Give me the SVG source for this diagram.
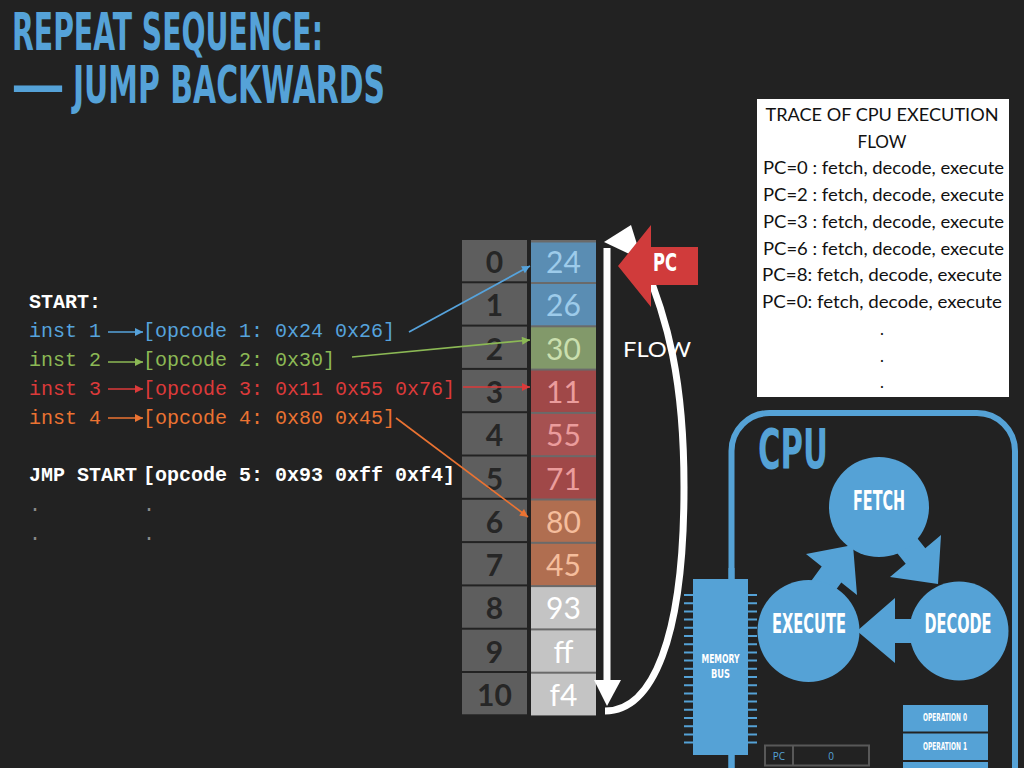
<svg xmlns="http://www.w3.org/2000/svg" width="1024" height="768" viewBox="0 0 1024 768">
<defs>
<style>
.cond{font-family:'Liberation Sans Narrow','DejaVu Sans Condensed','Liberation Sans',sans-serif;font-weight:bold}
.title{fill:#55a2d8;font-size:52px}
.mono{font-family:'Liberation Mono','DejaVu Sans Mono',monospace;font-size:20px}
.idx{font-family:Lato,'Noto Sans',sans-serif;font-size:30px;font-weight:bold;fill:#262626;text-anchor:middle}
.val{font-family:Lato,'Noto Sans',sans-serif;font-size:30px;text-anchor:middle}
.icell{fill:#5e5e5e}
.trace{font-family:Lato,'Noto Sans',sans-serif;font-size:16.5px;fill:#111;text-anchor:middle}
.blue{fill:#55a2d6}
.wtxt{fill:#fff;text-anchor:middle}
.pin{stroke:#55a2d6;stroke-width:2}
</style>
<marker id="mb" viewBox="0 0 10 10" refX="10" refY="5" markerWidth="10" markerHeight="8" markerUnits="userSpaceOnUse" orient="auto"><path d="M0,0L10,5L0,10z" fill="#56a3dc"/></marker>
<marker id="mg" viewBox="0 0 10 10" refX="10" refY="5" markerWidth="10" markerHeight="8" markerUnits="userSpaceOnUse" orient="auto"><path d="M0,0L10,5L0,10z" fill="#8cb955"/></marker>
<marker id="mr" viewBox="0 0 10 10" refX="10" refY="5" markerWidth="10" markerHeight="8" markerUnits="userSpaceOnUse" orient="auto"><path d="M0,0L10,5L0,10z" fill="#dc3a3a"/></marker>
<marker id="mo" viewBox="0 0 10 10" refX="10" refY="5" markerWidth="10" markerHeight="8" markerUnits="userSpaceOnUse" orient="auto"><path d="M0,0L10,5L0,10z" fill="#eb7332"/></marker>
</defs>
<rect width="1024" height="768" fill="#222222"/>

<g id="title" class="cond title">
<text x="12" y="50" textLength="311" lengthAdjust="spacingAndGlyphs">REPEAT SEQUENCE:</text>
<text y="103"><tspan x="11" textLength="54" lengthAdjust="spacingAndGlyphs">—</tspan> <tspan x="73" textLength="312" lengthAdjust="spacingAndGlyphs">JUMP BACKWARDS</tspan></text>
</g>

<g id="code" class="mono">
<text x="29" y="308" fill="#ffffff" font-weight="bold">START:</text>
<g id="inst1" fill="#56a3dc"><text x="29" y="337">inst 1</text><text x="143" y="337">[opcode 1: 0x24 0x26]</text></g>
<g id="inst2" fill="#8cb955"><text x="29" y="366">inst 2</text><text x="143" y="366">[opcode 2: 0x30]</text></g>
<g id="inst3" fill="#dc3a3a"><text x="29" y="395">inst 3</text><text x="143" y="395">[opcode 3: 0x11 0x55 0x76]</text></g>
<g id="inst4" fill="#eb7332"><text x="29" y="424">inst 4</text><text x="143" y="424">[opcode 4: 0x80 0x45]</text></g>
<g id="jmp" fill="#ffffff" font-weight="bold"><text x="29" y="481">JMP START</text><text x="143" y="481">[opcode 5: 0x93 0xff 0xf4]</text></g>
<g fill="#8a8a8a"><text x="29" y="511">.</text><text x="143" y="511">.</text><text x="29" y="540">.</text><text x="143" y="540">.</text></g>
</g>

<g id="memory-index">
<rect class="icell" x="462" y="240" width="65" height="41.3"/>
<rect class="icell" x="462" y="283.3" width="65" height="41.3"/>
<rect class="icell" x="462" y="326.6" width="65" height="41.3"/>
<rect class="icell" x="462" y="369.9" width="65" height="41.3"/>
<rect class="icell" x="462" y="413.2" width="65" height="41.3"/>
<rect class="icell" x="462" y="456.5" width="65" height="41.3"/>
<rect class="icell" x="462" y="499.8" width="65" height="41.3"/>
<rect class="icell" x="462" y="543.1" width="65" height="41.3"/>
<rect class="icell" x="462" y="586.4" width="65" height="41.3"/>
<rect class="icell" x="462" y="629.7" width="65" height="41.3"/>
<rect class="icell" x="462" y="673" width="65" height="41.3"/>
<text class="idx" x="494.5" y="273">0</text>
<text class="idx" x="494.5" y="316.3">1</text>
<text class="idx" x="494.5" y="359.6">2</text>
<text class="idx" x="494.5" y="402.9">3</text>
<text class="idx" x="494.5" y="446.2">4</text>
<text class="idx" x="494.5" y="489.5">5</text>
<text class="idx" x="494.5" y="532.8">6</text>
<text class="idx" x="494.5" y="576.1">7</text>
<text class="idx" x="494.5" y="619.4">8</text>
<text class="idx" x="494.5" y="662.7">9</text>
<text class="idx" x="494.5" y="706">10</text>
</g>

<g id="memory-values">
<rect x="531" y="240" width="65" height="476" fill="#6a6a6a"/>
<rect x="531" y="242.5" width="65" height="39.5" fill="#5a8db3"/>
<rect x="531" y="284" width="65" height="41.3" fill="#5a8db3"/>
<rect x="531" y="327.3" width="65" height="41.3" fill="#82996a"/>
<rect x="531" y="370.6" width="65" height="41.3" fill="#a04848"/>
<rect x="531" y="413.9" width="65" height="41.3" fill="#a65151"/>
<rect x="531" y="457.2" width="65" height="41.3" fill="#a04848"/>
<rect x="531" y="500.5" width="65" height="41.3" fill="#b06e50"/>
<rect x="531" y="543.8" width="65" height="41.3" fill="#b06e50"/>
<rect x="531" y="587.1" width="65" height="41.3" fill="#c4c4c4"/>
<rect x="531" y="630.4" width="65" height="41.3" fill="#c4c4c4"/>
<rect x="531" y="673.7" width="65" height="41.3" fill="#c4c4c4"/>
<text class="val" x="563.5" y="273" fill="#9dcbea">24</text>
<text class="val" x="563.5" y="316.3" fill="#9dcbea">26</text>
<text class="val" x="563.5" y="359.6" fill="#cadfae">30</text>
<text class="val" x="563.5" y="402.9" fill="#eb9c9c">11</text>
<text class="val" x="563.5" y="446.2" fill="#eb9c9c">55</text>
<text class="val" x="563.5" y="489.5" fill="#eb9c9c">71</text>
<text class="val" x="563.5" y="532.8" fill="#f5bd9c">80</text>
<text class="val" x="563.5" y="576.1" fill="#f5bd9c">45</text>
<text class="val" x="563.5" y="619.4" fill="#ffffff">93</text>
<text class="val" x="563.5" y="662.7" fill="#ffffff">ff</text>
<text class="val" x="563.5" y="706" fill="#ffffff">f4</text>
</g>

<g id="connectors" fill="none" stroke-width="1.7">
<line x1="108" y1="332" x2="143" y2="332" stroke="#56a3dc" marker-end="url(#mb)"/>
<line x1="108" y1="362" x2="143" y2="362" stroke="#8cb955" marker-end="url(#mg)"/>
<line x1="108" y1="389" x2="143" y2="389" stroke="#dc3a3a" marker-end="url(#mr)"/>
<line x1="108" y1="418" x2="143" y2="418" stroke="#eb7332" marker-end="url(#mo)"/>
<line x1="409" y1="332" x2="530" y2="266" stroke="#56a3dc" marker-end="url(#mb)"/>
<line x1="352" y1="357" x2="530" y2="340" stroke="#8cb955" marker-end="url(#mg)"/>
<line x1="463" y1="387" x2="530" y2="387" stroke="#dc3a3a" marker-end="url(#mr)"/>
<line x1="396" y1="418" x2="528" y2="517" stroke="#eb7332" marker-end="url(#mo)"/>
</g>

<g id="flow-arrow" fill="#ffffff">
<rect x="603.5" y="248" width="7" height="434"/>
<polygon points="594,680 621,680 607,706"/>
<path d="M605,711 C652,711 684,640 684,487 C684,380 668,320 642,258" fill="none" stroke="#ffffff" stroke-width="7"/>
<polygon points="604,242 631,225 642,260"/>
<text x="623" y="357" font-family="Lato,'Noto Sans',sans-serif" font-size="21" textLength="68" lengthAdjust="spacingAndGlyphs">FLOW</text>
</g>

<g id="pc-arrow">
<polygon points="618,266 651,225 651,247 698,247 698,285 651,285 651,307" fill="#d03b3b"/>
<text class="cond wtxt" x="665" y="271" font-size="25" textLength="24" lengthAdjust="spacingAndGlyphs">PC</text>
</g>

<g id="trace">
<rect x="757" y="99" width="252" height="298" fill="#ffffff"/>
<text class="trace" x="882" y="121" textLength="233" lengthAdjust="spacingAndGlyphs">TRACE OF CPU EXECUTION</text>
<text class="trace" x="882" y="148" textLength="49" lengthAdjust="spacingAndGlyphs">FLOW</text>
<text class="trace" x="883.5" y="174" textLength="241" lengthAdjust="spacingAndGlyphs">PC=0 : fetch, decode, execute</text>
<text class="trace" x="883.5" y="201" textLength="241" lengthAdjust="spacingAndGlyphs">PC=2 : fetch, decode, execute</text>
<text class="trace" x="883.5" y="228" textLength="241" lengthAdjust="spacingAndGlyphs">PC=3 : fetch, decode, execute</text>
<text class="trace" x="883.5" y="254.5" textLength="241" lengthAdjust="spacingAndGlyphs">PC=6 : fetch, decode, execute</text>
<text class="trace" x="882" y="281" textLength="240" lengthAdjust="spacingAndGlyphs">PC=8: fetch, decode, execute</text>
<text class="trace" x="882" y="308" textLength="240" lengthAdjust="spacingAndGlyphs">PC=0: fetch, decode, execute</text>
<text class="trace" x="882" y="335">.</text>
<text class="trace" x="882" y="362">.</text>
<text class="trace" x="882" y="388">.</text>
</g>

<g id="cpu">
<rect x="731.5" y="413" width="283.5" height="420" rx="38" fill="none" stroke="#55a2d6" stroke-width="6"/>
<text class="cond" x="758" y="468" font-size="56" fill="#55a2d6" textLength="70" lengthAdjust="spacingAndGlyphs">CPU</text>
</g>

<g id="cycle-arrows" class="blue">
<polygon points="801,595 821.7,566.6 806,554 853,545 857,595 841.3,582.4 820.6,610.8"/>
<polygon points="900.3,517 925.3,548.2 941,535 938,584 890,577 905.7,563.8 880.7,532.6"/>
<polygon points="920,619 895,619 895,598 857,631 895,663 895,643 920,643"/>
</g>

<g id="fetch">
<circle class="blue" cx="879" cy="507" r="50"/>
<text class="cond wtxt" x="879" y="510" font-size="27" textLength="52" lengthAdjust="spacingAndGlyphs">FETCH</text>
</g>
<g id="decode">
<circle class="blue" cx="959" cy="631" r="49.5"/>
<text class="cond wtxt" x="958" y="633" font-size="27" textLength="67" lengthAdjust="spacingAndGlyphs">DECODE</text>
</g>
<g id="execute">
<circle class="blue" cx="808.5" cy="631" r="51"/>
<text class="cond wtxt" x="809" y="633" font-size="27" textLength="74" lengthAdjust="spacingAndGlyphs">EXECUTE</text>
</g>

<g id="memory-bus">
<rect x="728.5" y="568" width="6" height="200" class="blue"/>
<rect x="693" y="579" width="55" height="176" class="blue"/>
<path class="pin" d="M684,595H693M684,603.2H693M684,611.4H693M684,619.6H693M684,627.8H693M684,636H693M684,644.2H693M684,652.4H693M684,660.6H693M684,668.8H693M684,677H693M684,685.2H693M684,693.4H693M684,701.6H693M684,709.8H693M684,718H693M684,726.2H693M684,734.4H693M684,742.6H693"/>
<path class="pin" d="M748,595H757M748,603.2H757M748,611.4H757M748,619.6H757M748,627.8H757M748,636H757M748,644.2H757M748,652.4H757M748,660.6H757M748,668.8H757M748,677H757M748,685.2H757M748,693.4H757M748,701.6H757M748,709.8H757M748,718H757M748,726.2H757M748,734.4H757M748,742.6H757"/>
<text class="cond wtxt" x="720.5" y="663" font-size="12.5" textLength="38" lengthAdjust="spacingAndGlyphs">MEMORY</text>
<text class="cond wtxt" x="720.5" y="677.5" font-size="12.5" textLength="19" lengthAdjust="spacingAndGlyphs">BUS</text>
</g>

<g id="pc-register">
<rect x="765" y="745.5" width="104" height="20" fill="none" stroke="#585858" stroke-width="2"/>
<line x1="793" y1="745.5" x2="793" y2="765.5" stroke="#585858" stroke-width="2"/>
<text x="779" y="760" font-family="'Open Sans','Noto Sans',sans-serif" font-size="10" fill="#55a2d6" text-anchor="middle">PC</text>
<text x="831" y="760" font-family="'Open Sans','Noto Sans',sans-serif" font-size="10" fill="#55a2d6" text-anchor="middle">0</text>
</g>

<g id="operations">
<rect class="blue" x="903" y="705" width="85" height="26.5"/>
<rect class="blue" x="903" y="733.5" width="85" height="26.5"/>
<rect class="blue" x="903" y="762" width="85" height="10"/>
<text class="cond wtxt" x="945" y="721" font-size="10" textLength="44" lengthAdjust="spacingAndGlyphs">OPERATION 0</text>
<text class="cond wtxt" x="945" y="749.5" font-size="10" textLength="44" lengthAdjust="spacingAndGlyphs">OPERATION 1</text>
</g>
</svg>
